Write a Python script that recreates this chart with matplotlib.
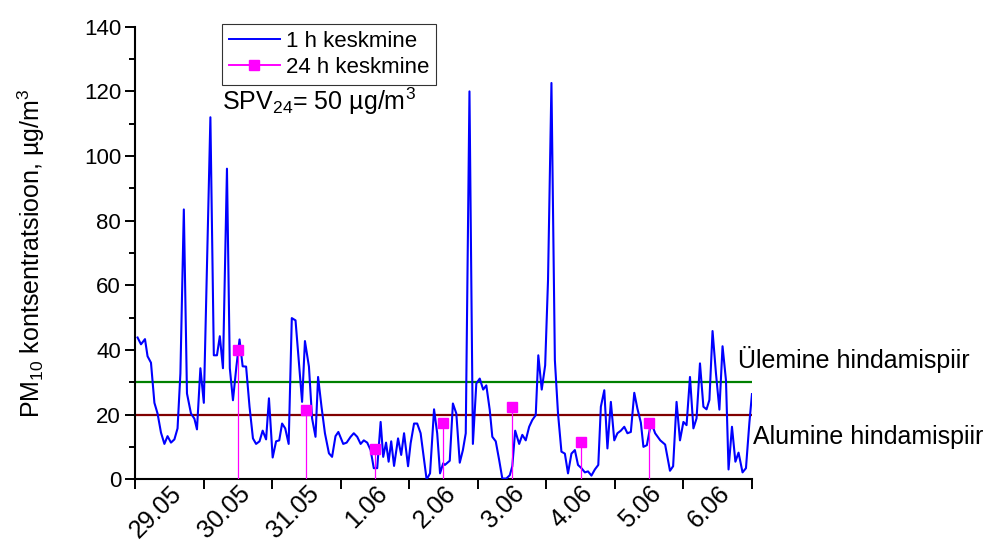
import numpy as np
import matplotlib
matplotlib.use("Agg")
import matplotlib.pyplot as plt
from matplotlib.lines import Line2D
from matplotlib.transforms import ScaledTranslation

plt.rcParams['font.family'] = ['Liberation Sans', 'DejaVu Sans']
plt.rcParams['mathtext.fontset'] = 'custom'
plt.rcParams['mathtext.rm'] = 'Liberation Sans'
plt.rcParams['mathtext.it'] = 'Liberation Sans:italic'

# 1 h keskmine: tunnid alates 29.05 00:00 ja kontsentratsioon (µg/m3)
hours_1h = [0.9, 2.1, 3.5, 4.4, 5.6, 6.8, 7.9, 9.1, 10.3, 11.4, 12.6, 13.8, 14.9, 15.9,
            17.1, 18.2, 19.6, 20.8, 21.7, 22.9, 24.1, 26.4, 27.6, 28.7, 29.7, 30.8, 32.2,
            33.2, 34.3, 35.5, 36.6, 37.7, 38.9, 40.1, 41.3, 42.4, 43.6, 44.7, 45.9, 46.9,
            48.2, 49.4, 50.5, 51.5, 52.6, 53.8, 54.9, 56.2, 58.5, 59.5, 60.9, 62.0, 63.2,
            64.1, 65.3, 66.5, 67.9, 69.0, 70.2, 71.2, 72.9, 74.1, 75.5, 76.6, 77.8, 79.0,
            80.1, 81.3, 82.5, 83.6, 84.8, 86.0, 86.9, 87.9, 88.8, 89.7, 90.7, 92.1, 93.2,
            94.2, 95.6, 96.5, 97.7, 98.8, 100.0, 102.1, 103.3, 104.7, 105.8, 106.8, 107.9,
            108.5, 110.2, 111.3, 112.5, 113.7, 114.8, 115.8, 117.1, 118.3, 119.5, 120.7,
            121.9, 123.0, 124.2, 125.1, 126.3, 127.5, 128.6, 130.0, 131.2, 132.1, 133.1,
            134.5, 135.6, 136.8, 138.0, 139.1, 140.3, 141.2, 142.4, 143.6, 144.6, 145.8,
            147.0, 148.1, 149.3, 150.5, 151.6, 152.8, 154.0, 155.1, 156.3, 157.5, 158.6,
            159.8, 161.0, 162.2, 163.1, 164.3, 165.4, 166.6, 167.8, 168.9, 170.1, 171.3,
            172.4, 173.6, 174.8, 175.9, 177.1, 178.0, 179.2, 180.7, 182.1, 183.9, 185.6,
            187.3, 188.4, 189.6, 190.8, 192.0, 193.1, 194.3, 195.5, 196.6, 197.8, 199.0,
            200.1, 201.1, 202.2, 203.4, 204.6, 205.7, 206.9, 207.8, 209.0, 210.2, 211.3,
            212.7, 213.9, 215.1, 216.0]
pm_1h = [43.9, 41.8, 43.4, 38.1, 36.1, 23.7, 20.4, 14.5, 11.0, 13.4, 11.4, 12.4, 15.8, 32.8,
         83.5, 26.6, 20.4, 18.8, 15.5, 34.4, 23.7, 112.0, 38.4, 38.4, 44.3, 34.4, 96.1,
         34.4, 24.5, 34.9, 43.3, 35.0, 34.9, 22.5, 12.7, 11.0, 11.8, 15.1, 12.4, 25.1,
         6.8, 11.8, 12.1, 17.3, 15.8, 11.0, 49.9, 49.2, 24.0, 42.8, 34.9, 18.9, 13.2,
         31.7, 22.5, 14.3, 8.1, 7.0, 13.4, 14.7, 11.0, 11.4, 13.2, 14.3, 13.2, 11.0,
         12.1, 11.4, 9.1, 3.5, 3.5, 17.8, 7.0, 11.4, 5.5, 11.8, 4.2, 12.7, 7.6,
         14.3, 4.1, 11.2, 17.3, 17.3, 14.3, 0.0, 1.9, 21.7, 14.3, 1.9, 5.0,
         4.5, 5.8, 23.5, 20.4, 5.2, 9.1, 14.3, 120.0, 11.0, 29.7, 31.2,
         27.8, 29.1, 21.5, 13.2, 11.8, 6.0, 0.3, 0.3, 1.3, 4.1, 15.1,
         11.0, 13.8, 12.1, 16.3, 18.4, 19.9, 38.4, 27.8, 35.3, 61.6, 122.6,
         36.9, 20.4, 8.6, 8.0, 1.9, 8.0, 9.1, 4.5, 3.5, 2.2, 2.5,
         1.2, 3.1, 4.5, 22.5, 27.6, 9.6, 24.0, 12.1, 14.3, 15.1, 16.3,
         14.3, 14.7, 26.8, 21.9, 17.6, 10.1, 10.6, 17.8, 14.3, 12.1, 10.8,
         2.7, 4.1, 24.0, 12.1, 17.8, 16.8, 31.7, 15.8, 18.9, 35.9, 22.5,
         21.7, 24.6, 45.9, 32.8, 21.6, 41.2, 30.7, 3.1, 16.3, 5.5, 8.3,
         2.2, 3.5, 17.6, 26.4]

# 24 h keskmine (ööpäeva keskpunktis)
hours_24h = [36, 60, 84, 108, 132, 156, 180]
pm_24h = [40.0, 21.5, 9.5, 17.5, 22.5, 11.5, 17.5]

ulemine = 30
alumine = 20
day_labels = ['29.05', '30.05', '31.05', '1.06', '2.06', '3.06', '4.06', '5.06', '6.06']

fig = plt.figure(figsize=(9.94, 5.45), dpi=100)
ax = fig.add_axes([0.1358, 0.1202, 0.6207, 0.8308])

ax.axhline(ulemine, color='#008000', lw=1.6, zorder=2)
ax.axhline(alumine, color='#800000', lw=1.6, zorder=2)
ax.plot(hours_1h, pm_1h, color='#0000ff', lw=1.5, zorder=3)
ax.vlines(hours_24h, 0, pm_24h, color='#ff00ff', lw=0.9, zorder=4)
ax.plot(hours_24h, pm_24h, ls='none', marker='s', ms=7.5, color='#ff00ff', zorder=5)

ax.set_xlim(0, 216)
ax.set_ylim(0, 140)
ax.set_yticks(np.arange(0, 141, 20))
ax.set_yticks(np.arange(10, 140, 20), minor=True)
ax.set_xticks(np.arange(0, 217, 24))
ax.set_xticklabels([])
ax.set_xticks(np.arange(12, 216, 24), minor=True)
ax.set_xticklabels(day_labels, minor=True, rotation=45, ha='right', va='top',
                   rotation_mode='anchor', fontsize=18)
for lbl in ax.get_xticklabels(minor=True):
    lbl.set_transform(lbl.get_transform() + ScaledTranslation(0.2, 0, fig.dpi_scale_trans))

ax.tick_params(axis='y', which='major', direction='out', length=7, width=1.4, labelsize=16, pad=3)
ax.tick_params(axis='y', which='minor', direction='out', length=4, width=1.4)
ax.tick_params(axis='x', which='major', direction='out', length=7, width=1.4)
ax.tick_params(axis='x', which='minor', length=0, pad=1)

for s in ['top', 'right']:
    ax.spines[s].set_visible(False)
for s in ['left', 'bottom']:
    ax.spines[s].set_linewidth(1.5)

ax.set_ylabel('PM$_{10}$ kontsentratsioon, µg/m$^3$', fontsize=18)
ax.yaxis.set_label_coords(-0.142, 0.5)

handles = [Line2D([], [], color='#0000ff', lw=1.4),
           Line2D([], [], color='#ff00ff', lw=1.4, marker='s', ms=7.5)]
leg = ax.legend(handles, ['1 h keskmine', '24 h keskmine'], loc='upper left',
                bbox_to_anchor=(0.141, 1.006), fontsize=16, frameon=True, fancybox=False,
                edgecolor='black', borderpad=0.3, handlelength=2.3, handletextpad=0.3,
                labelspacing=0.25, borderaxespad=0)
leg.get_frame().set_linewidth(0.8)

ax.text(0.141, 0.835, 'SPV$_{24}$= 50 µg/m$^3$', transform=ax.transAxes, fontsize=18,
        ha='left', va='center')
ax.text(211, 37, 'Ülemine hindamispiir', fontsize=18, ha='left', va='center', clip_on=False)
ax.text(216.3, 13, 'Alumine hindamispiir', fontsize=18, ha='left', va='center', clip_on=False)

fig.savefig('out.png', dpi=100)
